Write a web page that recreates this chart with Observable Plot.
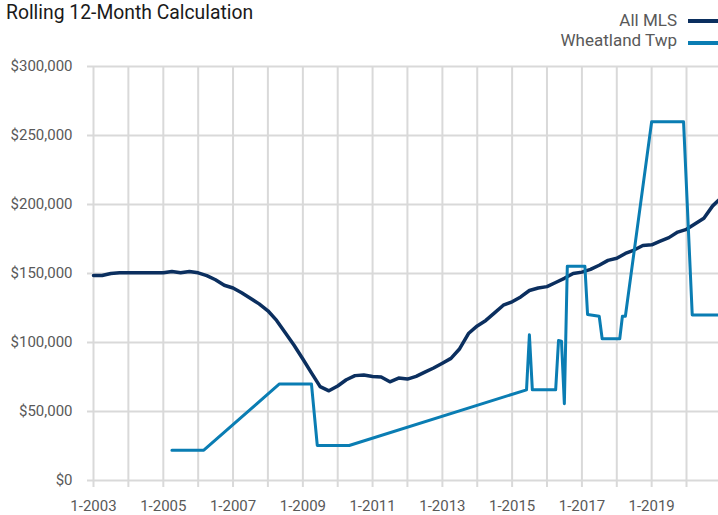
<!DOCTYPE html>
<html><head><meta charset="utf-8">
<script src="https://cdn.jsdelivr.net/npm/d3@7"></script>
<script src="https://cdn.jsdelivr.net/npm/@observablehq/plot@0.6"></script>
<style>
body{margin:0;background:#fff;}
#wrap{position:relative;width:718px;height:515px;font-family:Roboto,sans-serif;overflow:hidden;}
#title{position:absolute;left:6px;top:2px;font-size:21px;line-height:21px;color:#1a1a1a;white-space:nowrap;transform:scaleX(0.92);transform-origin:left top;}
.leg{position:absolute;right:41px;font-size:17px;line-height:17px;color:#595959;white-space:nowrap;}
.sw{position:absolute;left:688px;width:30px;height:3.5px;}
#chart{position:absolute;left:0;top:0;}
</style></head><body>
<div id="wrap">
  <div id="chart"></div>
  <div id="title">Rolling 12-Month Calculation</div>
  <div class="leg" id="l1"></div>
  <div class="sw" id="s1"></div>
  <div class="leg" id="l2"></div>
  <div class="sw" id="s2"></div>
</div>
<script>
const seriesNames = ["All MLS", "Wheatland Twp"];
const seriesColors = ["#0b2f5f", "#0a7db3"];

const mlsDates = ["2003-01","2003-04","2003-07","2003-10","2004-01","2004-04","2004-07","2004-10",
"2005-01","2005-04","2005-07","2005-10","2006-01","2006-04","2006-07","2006-10",
"2007-01","2007-04","2007-07","2007-10","2008-01","2008-04","2008-07","2008-10",
"2009-01","2009-04","2009-07","2009-10","2010-01","2010-04","2010-07","2010-10",
"2011-01","2011-04","2011-07","2011-10","2012-01","2012-04","2012-07","2012-10",
"2013-01","2013-04","2013-07","2013-10","2014-01","2014-04","2014-07","2014-10",
"2015-01","2015-04","2015-07","2015-10","2016-01","2016-04","2016-07","2016-10",
"2017-01","2017-04","2017-07","2017-10","2018-01","2018-04","2018-07","2018-10",
"2019-01","2019-04","2019-07","2019-10","2020-01","2020-04","2020-07","2020-10","2020-12"];
const mlsValues = [148500,148500,150000,150500,150500,150500,150500,150500,
150500,151500,150500,151500,150500,148500,145500,141500,
139500,136000,132000,128000,123000,116000,107000,98000,
88000,78000,68000,65000,68500,73000,76000,76500,
75400,75000,71500,74200,73500,75500,78500,81500,
85000,88500,95500,106500,112000,116000,121500,127000,
129500,133000,137700,139500,140500,143500,146500,150000,
151000,153000,156000,159500,161000,164500,167000,170300,
170800,173500,176000,180000,182000,186000,190000,199000,203000];

const wtDates = ["2005-04","2006-03","2008-05","2009-04","2009-06","2010-05",
"2015-06","2015-07","2015-08","2016-04","2016-05","2016-06","2016-07","2016-08",
"2017-02","2017-03","2017-07","2017-08","2018-02","2018-03","2018-04",
"2019-01","2019-12","2020-03","2020-12"];
const wtValues = [22000,22000,70000,70000,25400,25400,
65700,105600,65700,65700,101400,101000,55600,155300,
155300,120300,119000,102700,102700,119000,119000,
260000,260000,120000,120000];

const yTicks = [0,50000,100000,150000,200000,250000,300000];
const xStart = "2003-01", xEnd = "2020-12";
const labelYears = [2003,2005,2007,2009,2011,2013,2015,2017,2019];
const gridYears = d3.range(2003, 2021);

const parse = s => new Date(s + "-01T00:00:00Z");
const mls = mlsDates.map((d,i) => ({date: parse(d), value: mlsValues[i]}));
const wt = wtDates.map((d,i) => ({date: parse(d), value: wtValues[i]}));
const yearTicks = gridYears.map(y => new Date(Date.UTC(y,0,1)));
const labelTicks = labelYears.map(y => new Date(Date.UTC(y,0,1)));
const fmtX = d => `${d.getUTCMonth()+1}-${d.getUTCFullYear()}`;

const chart = Plot.plot({
  width: 718, height: 515,
  marginTop: 66, marginBottom: 35, marginLeft: 93, marginRight: 0,
  style: {fontFamily: "Roboto, sans-serif", fontSize: "15px", color: "#595959", background: "transparent", overflow: "visible"},
  x: {type: "utc", domain: [parse(xStart), parse(xEnd)]},
  y: {domain: [0, 300000]},
  marks: [
    Plot.gridY(yTicks, {stroke: "#d9d9d9", strokeOpacity: 1, strokeWidth: 2}),
    Plot.gridX(yearTicks, {stroke: "#d9d9d9", strokeOpacity: 1, strokeWidth: 2}),
    Plot.axisY(yTicks, {tickSize: 6, tickPadding: 15, stroke: "#d9d9d9", strokeWidth: 2, fill: "#595959", tickFormat: d3.format("$,"), label: null}),
    Plot.axisX(yearTicks, {tickSize: 7, stroke: "#d9d9d9", strokeWidth: 2, tickFormat: () => "", label: null}),
    Plot.axisX(labelTicks, {tickSize: 0, tickPadding: 20, fill: "#595959", tickFormat: fmtX, label: null}),
    Plot.line(mls, {x: "date", y: "value", stroke: seriesColors[0], strokeWidth: 3.5, strokeLinejoin: "round"}),
    Plot.line(wt, {x: "date", y: "value", stroke: seriesColors[1], strokeWidth: 3, strokeLinejoin: "round"})
  ]
});
document.getElementById("chart").appendChild(chart);

const l1 = document.getElementById("l1"), l2 = document.getElementById("l2");
l1.textContent = seriesNames[0]; l2.textContent = seriesNames[1];
l1.style.top = "12px"; l2.style.top = "32px";
const s1 = document.getElementById("s1"), s2 = document.getElementById("s2");
s1.style.background = seriesColors[0]; s1.style.top = "19px";
s2.style.background = seriesColors[1]; s2.style.top = "41px";
</script>
</body></html>
